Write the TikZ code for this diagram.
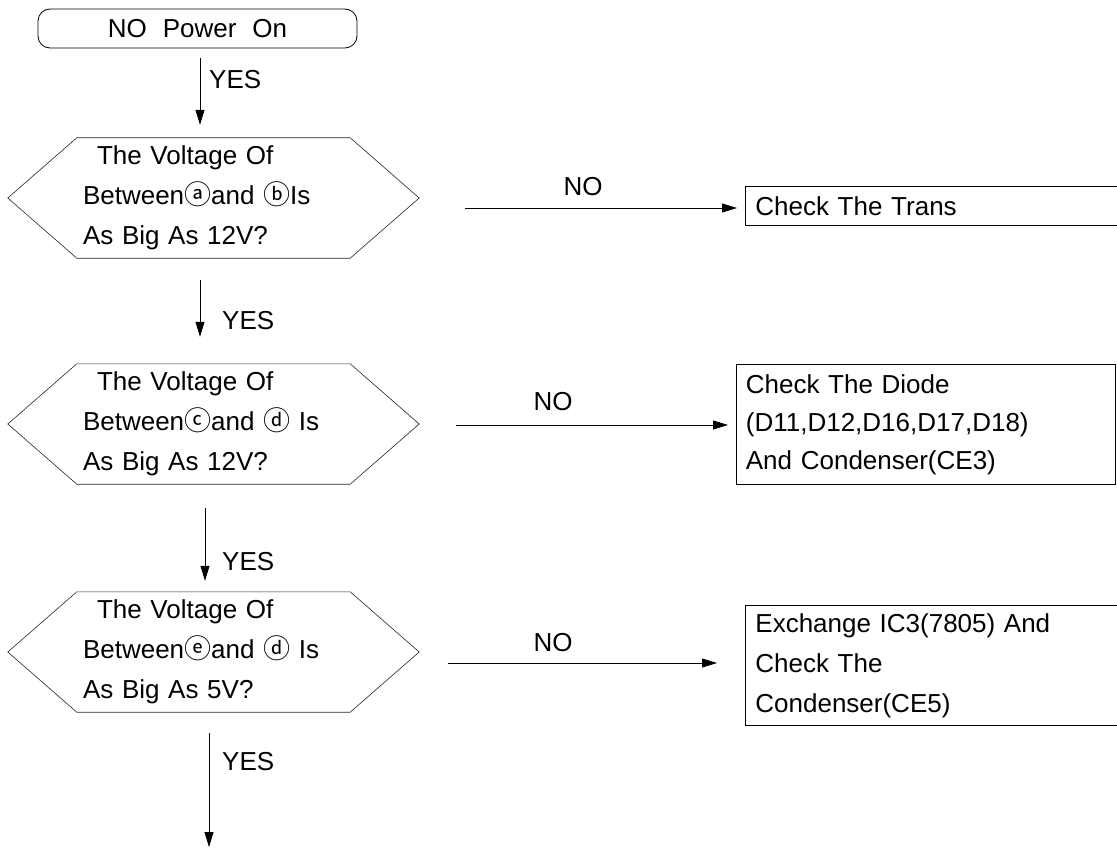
\documentclass[tikz,border=0pt]{standalone}
\usepackage{fontspec}
\setmainfont{Liberation Sans}[WordSpace=2.2]
\newfontfamily\circfont{Noto Sans CJK SC}
\newcommand{\circl}[1]{{\circfont\fontsize{27}{27}\selectfont #1}}
\usetikzlibrary{calc,arrows.meta}
\begin{document}
\begin{tikzpicture}[x=1pt,y=1pt,
  every node/.style={font=\fontsize{26}{40}\selectfont},
  arr/.style={line width=0.8pt,-{Triangle[length=15pt,width=9pt]}},
  hexbox/.style={minimum width=411pt,minimum height=120pt,text width=261pt,align=left,inner sep=0pt},
  hexline/.style={line width=0.6pt,black!85},
  boxnode/.style={draw,line width=0.8pt,anchor=north west,align=left,inner xsep=7pt,inner ysep=0pt},
  lbl/.style={inner sep=0pt}]
\useasboundingbox (0,0) rectangle (1117,-848);
% start
\node[draw,line width=0.8pt,rounded corners=12pt,minimum width=319pt,minimum height=39pt,inner sep=0pt] (term) at (197.5,-28.5) {NO Power On};
% hexagons
\node[hexbox] (h1) at (213.5,-198) {\hspace*{14pt}The Voltage Of\\Between\circl{ⓐ}and \circl{ⓑ}Is\\As Big As 12V?};
\node[hexbox] (h2) at (213.5,-424) {\hspace*{14pt}The Voltage Of\\Between\circl{ⓒ}and \circl{ⓓ} Is\\As Big As 12V?};
\node[hexbox] (h3) at (213.5,-652) {\hspace*{14pt}The Voltage Of\\Between\circl{ⓔ}and \circl{ⓓ} Is\\As Big As 5V?};
\foreach \n in {h1,h2,h3}{
  \draw[hexline] (\n.west) -- ($(\n.north west)+(69,0)$) -- ($(\n.north east)+(-69,0)$) -- (\n.east) -- ($(\n.south east)+(-69,0)$) -- ($(\n.south west)+(69,0)$) -- cycle;
}
% result boxes
\node[boxnode,minimum width=400pt,minimum height=39pt,text width=380pt] (b1) at (745,-186) {Check The Trans};
\node[boxnode,minimum width=379pt,minimum height=120pt,text width=360pt,font=\fontsize{26}{38}\selectfont] (b2) at (736,-364) {Check The Diode\\(D11,D12,D16,D17,D18)\\And Condenser(CE3)};
\node[boxnode,minimum width=400pt,minimum height=120pt,text width=380pt] (b3) at (745,-605) {Exchange IC3(7805) And\\Check The\\Condenser(CE5)};
% vertical arrows
\coordinate (end) at (209,-847);
\draw[arr] ($(term.south)+(2.5,-10)$) -- ($(h1.north)+(-13.5,13)$);
\draw[arr] ($(h1.south)+(-13.5,-22)$) -- ($(h2.north)+(-13.5,27)$);
\draw[arr] ($(h2.south)+(-8.5,-24)$) -- ($(h3.north)+(-8.5,11)$);
\draw[arr] ($(h3.south)+(-4.5,-21)$) -- (end);
% horizontal arrows
\draw[arr,shorten >=8pt] ($(h1.east)+(46,-10)$) coordinate (s1) -- (s1 -| b1.west);
\draw[arr,shorten >=8pt] ($(h2.east)+(37,-1)$) coordinate (s2) -- (s2 -| b2.west);
\draw[arr,shorten >=28pt] ($(h3.east)+(29,-11)$) coordinate (s3) -- (s3 -| b3.west);
% labels
\node[lbl,anchor=west] (y1) at (209,-80) {YES};
\node[lbl,anchor=west] (y2) at (222,-321) {YES};
\node[lbl,anchor=west] (y3) at (222,-562) {YES};
\node[lbl,anchor=west] (y4) at (222,-762) {YES};
\node[lbl] (n1) at (583,-187) {NO};
\node[lbl] (n2) at (553,-402) {NO};
\node[lbl] (n3) at (553,-643) {NO};
\end{tikzpicture}
\end{document}
